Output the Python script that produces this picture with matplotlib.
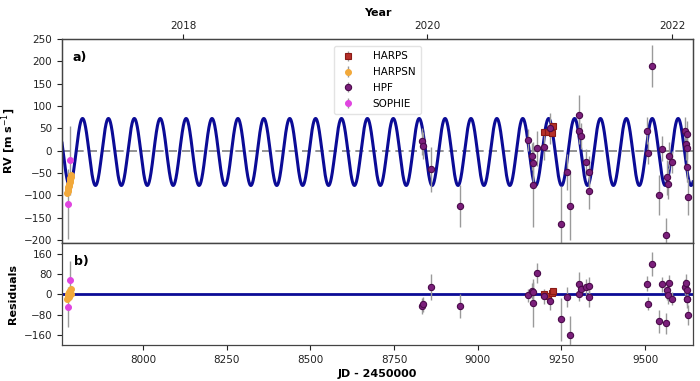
import numpy as np
import matplotlib
matplotlib.use('Agg')
import matplotlib.pyplot as plt

# ---------------- data (JD - 2450000) ----------------
harps_jd  = [9199, 9211, 9221, 9226]
harps_rv  = [41, 41, 40, 56]
harps_res = [3, -5, 5, 13]
harps_err = [5, 5, 5, 5]

harpsn_jd  = [7774, 7775, 7776, 7777, 7778, 7779, 7780, 7781, 7782, 7783, 7784, 7785]
harpsn_rv  = [-95, -90, -86, -82, -78, -74, -80, -70, -66, -62, -58, -55]
harpsn_res = [-20, -12, -6, 2, -2, 8, -10, 12, 5, 14, 0, 20]
harpsn_err = [6, 6, 5, 5, 6, 5, 6, 5, 6, 5, 6, 6]

hpf_jd  = [8832.8, 8835.8, 8860.6, 8947.0,
           9151.3, 9161.4, 9164.4, 9165.5, 9176.4, 9198.0, 9216.0, 9248.0,
           9268.0, 9276.0, 9302.0, 9303.0, 9309.0, 9324.0, 9331.0, 9333.0,
           9506.9, 9509.9, 9520.0, 9541.8, 9549.9, 9561.8, 9564.8, 9569.6,
           9572.6, 9579.8, 9619.5, 9622.5, 9624.6, 9625.5, 9626.0, 9627.0]
hpf_rv  = [21, 11, -42, -124,
           24, -13, -27, -76, 5, 9, 50, -164,
           -48, -125, 45, 80, 33, -26, -47, -91,
           45, -6, 190, -100, 4, -190, -60, -74,
           -11, -26, 45, 15, 37, 6, -36, -104]
hpf_res = [-46, -40, 29, -46,
           -4, 13, 8, -33, 84, -8, -26, -98,
           -11, -159, 3, 42, 22, 29, 33, -11,
           42, -37, 121, -106, 39, -115, 16, -4,
           45, -17, 29, 45, 16, -17, -20, -83]
hpf_err = [30, 30, 50, 48,
           25, 30, 40, 95, 40, 30, 35, 85,
           40, 75, 30, 45, 30, 30, 35, 40,
           30, 25, 47, 45, 28, 40, 40, 35,
           30, 25, 30, 35, 30, 25, 35, 40]

sophie_jd  = [7776, 7783]
sophie_rv  = [-120, -22]
sophie_res = [-50, 55]
sophie_err = [78, 78]

# Keplerian (circular) model parameters from the fit
model_P = 77.36        # days
model_K = 75.0         # m/s
model_tpeak = 7819.3   # JD - 2450000 of RV maximum
model_gamma = -3.0     # m/s

year_labels = ['2018', '2020', '2022']
year_jd = [8119.5, 8849.5, 9580.5]

xlim = (7758, 9643)

# ---------------- figure ----------------
fig = plt.figure(figsize=(7, 3.81), dpi=100)
ax1 = fig.add_axes([0.0886, 0.362, 0.9014, 0.5356])
ax2 = fig.add_axes([0.0886, 0.0945, 0.9014, 0.2675], sharex=ax1)

c_model = '#0b0b96'
ecol = '#9a9a9a'
fs = 7.5

t = np.linspace(xlim[0], xlim[1], 4000)
model = model_gamma + model_K * np.cos(2 * np.pi * (t - model_tpeak) / model_P)

ax1.axhline(0, color='#808080', ls='--', lw=1.2, dashes=(5, 3), zorder=1)
ax1.plot(t, model, color=c_model, lw=2.2, zorder=2)

sets = [
    ('HARPS', harps_jd, harps_rv, harps_res, harps_err, 's', '#b5302a', '#8a1a15', 4.2),
    ('HARPSN', harpsn_jd, harpsn_rv, harpsn_res, harpsn_err, 'o', '#f2a93b', '#f2a93b', 4.2),
    ('HPF', hpf_jd, hpf_rv, hpf_res, hpf_err, 'o', '#7b1f7b', '#4a0a4a', 4.5),
    ('SOPHIE', sophie_jd, sophie_rv, sophie_res, sophie_err, 'o', '#e045e0', '#e045e0', 4.2),
]
for name, jd, rv, res, err, mk, fc, ec, ms in sets:
    ax1.errorbar(jd, rv, yerr=err, fmt=mk, mfc=fc, mec=ec, ms=ms, mew=0.8,
                 ecolor=ecol, elinewidth=1.0, capsize=0, label=name, zorder=4)
    ax2.errorbar(jd, res, yerr=err, fmt=mk, mfc=fc, mec=ec, ms=ms, mew=0.8,
                 ecolor=ecol, elinewidth=1.0, capsize=0, zorder=4)

ax2.axhline(0, color=c_model, lw=2.0, zorder=2)

ax1.set_xlim(*xlim)
ax1.set_ylim(-207, 250)
ax1.set_yticks(np.arange(-200, 251, 50))
ax2.set_ylim(-200, 202)
ax2.set_yticks([-160, -80, 0, 80, 160])
ax2.set_xticks([8000, 8250, 8500, 8750, 9000, 9250, 9500])
plt.setp(ax1.get_xticklabels(), visible=False)
ax1.tick_params(axis='x', length=0)

for ax in (ax1, ax2):
    ax.tick_params(labelsize=fs, colors='#222222', width=0.8, length=3.5)
    for s in ax.spines.values():
        s.set_color('#444444')
        s.set_linewidth(0.9)

ax1.set_ylabel('RV [m s$^{-1}$]', fontsize=fs + 0.5, fontweight='bold', labelpad=4)
ax2.set_ylabel('Residuals', fontsize=fs + 0.5, fontweight='bold', labelpad=4)
ax2.set_xlabel('JD - 2450000', fontsize=fs + 0.5, fontweight='bold', labelpad=3)
fig.align_ylabels([ax1, ax2])

ax1.text(0.016, 0.91, 'a)', transform=ax1.transAxes, fontsize=9, fontweight='bold', va='center')
ax2.text(0.019, 0.82, 'b)', transform=ax2.transAxes, fontsize=9, fontweight='bold', va='center')

axt = ax1.twiny()
axt.set_xlim(*xlim)
axt.set_xticks(year_jd)
axt.set_xticklabels(year_labels)
axt.tick_params(labelsize=fs, colors='#222222', width=0.8, length=3.5, pad=2)
axt.set_xlabel('Year', fontsize=fs + 0.5, fontweight='bold', labelpad=4)
for s in axt.spines.values():
    s.set_color('#444444')
    s.set_linewidth(0.9)

leg = ax1.legend(loc='upper center', bbox_to_anchor=(0.5, 0.99), fontsize=fs,
                 frameon=True, handletextpad=1.6, handlelength=1.6, borderpad=0.5,
                 labelspacing=0.55)
leg.get_frame().set_edgecolor('#dddddd')

fig.savefig('out.png', dpi=100)
